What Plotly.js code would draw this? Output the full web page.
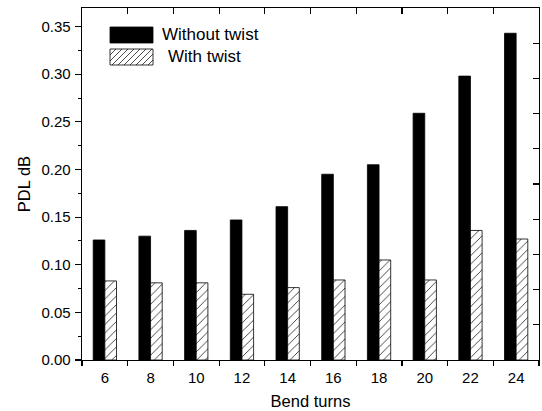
<!DOCTYPE html>
<html>
<head>
<meta charset="utf-8">
<script src="https://cdn.plot.ly/plotly-3.0.1.min.js"></script>
<style>html,body{margin:0;padding:0;background:#fff;}#chart{width:542px;height:411px;}</style>
</head>
<body>
<div id="chart"></div>
<script>
const bendTurns = ['6', '8', '10', '12', '14', '16', '18', '20', '22', '24'];
const withoutTwist = [0.126, 0.130, 0.136, 0.147, 0.161, 0.195, 0.205, 0.259, 0.298, 0.343];
const withTwist = [0.083, 0.081, 0.081, 0.069, 0.076, 0.084, 0.105, 0.084, 0.136, 0.127];
const yTickVals = [0, 0.05, 0.10, 0.15, 0.20, 0.25, 0.30, 0.35];
const yTickText = ['0.00', '0.05', '0.10', '0.15', '0.20', '0.25', '0.30', '0.35'];
const seriesNames = ['Without twist', 'With twist'];

const fontFam = 'Liberation Sans, Arial, sans-serif';

// layout geometry (pixels)
const M = {l: 82, r: 3, t: 8, b: 51};
const W = 542, H = 411;
const PW = W - M.l - M.r, PH = H - M.t - M.b;
const px = v => (v - M.l) / PW;           // pixel x -> paper
const py = v => (H - M.b - v) / PH;       // pixel y -> paper

// custom legend (large swatches like the original)
const sw = {x0: 110, x1: 153, y1a: 27, y1b: 43, y2a: 49, y2b: 65};
let hatch = '';
const step = 6;
for (let k = -(sw.y2b - sw.y2a); k < (sw.x1 - sw.x0); k += step) {
  // line from bottom-left to top-right: (x0+k, y2b) -> (x0+k+h, y2a), clipped
  const h = sw.y2b - sw.y2a;
  let xa = sw.x0 + k, ya = sw.y2b, xb = sw.x0 + k + h, yb = sw.y2a;
  if (xa < sw.x0) { ya = sw.y2b - (sw.x0 - xa); xa = sw.x0; }
  if (xb > sw.x1) { yb = sw.y2a + (xb - sw.x1); xb = sw.x1; }
  hatch += 'M' + px(xa) + ',' + py(ya) + 'L' + px(xb) + ',' + py(yb);
}

const shapes = [
  {type: 'rect', xref: 'paper', yref: 'paper', x0: px(sw.x0), x1: px(sw.x1), y0: py(sw.y1b), y1: py(sw.y1a),
   fillcolor: '#000', line: {color: '#000', width: 0.8}},
  {type: 'rect', xref: 'paper', yref: 'paper', x0: px(sw.x0), x1: px(sw.x1), y0: py(sw.y2b), y1: py(sw.y2a),
   fillcolor: '#fff', line: {color: '#000', width: 0.8}},
  {type: 'path', xref: 'paper', yref: 'paper', path: hatch, line: {color: '#000', width: 0.7}}
];

const annotations = [
  {xref: 'paper', yref: 'paper', x: px(160), y: py(35), xanchor: 'left', yanchor: 'middle', showarrow: false,
   text: seriesNames[0], font: {family: fontFam, size: 17, color: '#000'}},
  {xref: 'paper', yref: 'paper', x: px(166), y: py(57), xanchor: 'left', yanchor: 'middle', showarrow: false,
   text: seriesNames[1], font: {family: fontFam, size: 17, color: '#000'}}
];

const traces = [
  {
    type: 'bar', name: seriesNames[0], x: bendTurns, y: withoutTwist, showlegend: false,
    marker: {color: '#000000', line: {color: '#000000', width: 0.8}}
  },
  {
    type: 'bar', name: seriesNames[1], x: bendTurns, y: withTwist, showlegend: false,
    marker: {
      color: '#ffffff',
      line: {color: '#000000', width: 0.8},
      pattern: {shape: '/', fgcolor: '#000000', bgcolor: '#ffffff', size: 6, solidity: 0.12}
    }
  },
  {
    type: 'scatter', x: [], y: [], xaxis: 'x2', yaxis: 'y2', showlegend: false, hoverinfo: 'skip'
  }
];

const layout = {
  width: W, height: H,
  margin: M,
  paper_bgcolor: '#ffffff', plot_bgcolor: '#ffffff',
  font: {family: fontFam, color: '#000000', size: 15},
  barmode: 'group', bargap: 0.49, bargroupgap: 0,
  showlegend: false,
  shapes: shapes,
  annotations: annotations,
  xaxis: {
    type: 'category', range: [-0.5, 9.5],
    tickson: 'boundaries', ticks: 'outside', ticklen: 5, tickwidth: 1.2, tickcolor: '#000',
    showline: true, linecolor: '#000', linewidth: 1.3, showgrid: false, zeroline: false,
    tickfont: {family: fontFam, size: 15}, ticklabelstandoff: 4,
    title: {text: 'Bend turns', font: {family: fontFam, size: 16.5}, standoff: 10}
  },
  yaxis: {
    range: [0, 0.3695], tickmode: 'array', tickvals: yTickVals, ticktext: yTickText,
    ticks: 'outside', ticklen: 6, tickwidth: 1.2, tickcolor: '#000',
    minor: {ticks: 'outside', ticklen: 3, tickwidth: 1, tickcolor: '#000', dtick: 0.025, tick0: 0, showgrid: false},
    showline: true, linecolor: '#000', linewidth: 1.3, showgrid: false, zeroline: false,
    tickfont: {family: fontFam, size: 15}, ticklabelstandoff: 1,
    title: {text: 'PDL dB', font: {family: fontFam, size: 16.5}, standoff: 6}
  },
  xaxis2: {
    overlaying: 'x', side: 'top', anchor: 'y', type: 'linear', range: [5, 25],
    tickmode: 'linear', tick0: 5, dtick: 2, ticks: 'inside', ticklen: 6, tickwidth: 1.2, tickcolor: '#000',
    showticklabels: false, showline: true, linecolor: '#000', linewidth: 1.3,
    showgrid: false, zeroline: false, fixedrange: true
  },
  yaxis2: {
    overlaying: 'y', side: 'right', anchor: 'x', range: [0, 10],
    tickmode: 'linear', tick0: 0, dtick: 1, ticks: 'inside', ticklen: 6, tickwidth: 1.2, tickcolor: '#000',
    showticklabels: false, showline: true, linecolor: '#000', linewidth: 1.3,
    showgrid: false, zeroline: false, fixedrange: true
  }
};

Plotly.newPlot('chart', traces, layout, {displayModeBar: false, staticPlot: true});
</script>
</body>
</html>
